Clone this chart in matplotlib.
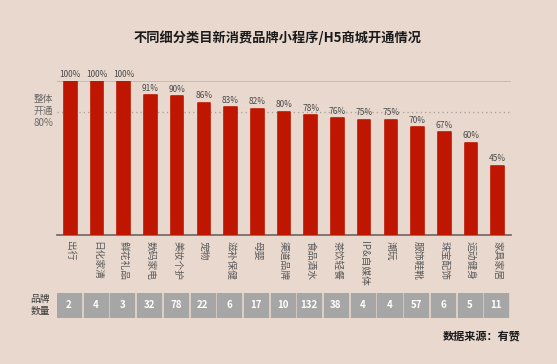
import numpy as np
import matplotlib.pyplot as plt
from matplotlib.patches import Rectangle

plt.rcParams['font.family'] = ['Noto Sans CJK SC', 'DejaVu Sans']

# Data
categories = ['出行', '日化家清', '鲜花礼品', '数码家电', '美妆个护', '宠物', '滋补保健', '母婴',
              '渠道品牌', '食品酒水', '茶饮轻餐', 'IP&自媒体', '潮玩', '服饰鞋靴', '珠宝配饰',
              '运动健身', '家具家居']
open_rate = [100, 100, 100, 91, 90, 86, 83, 82, 80, 78, 76, 75, 75, 70, 67, 60, 45]
brand_count = [2, 4, 3, 32, 78, 22, 6, 17, 10, 132, 38, 4, 4, 57, 6, 5, 11]
overall_rate = 80

bg = '#E8D8CE'
bar_color = '#BE1600'
text_gray = '#595959'

fig = plt.figure(figsize=(5.57, 3.64), dpi=100, facecolor=bg)
W, H = 557, 364

def ax_rect(x0, y0, x1, y1):
    return [x0 / W, 1 - y1 / H, (x1 - x0) / W, (y1 - y0) / H]

ax = fig.add_axes(ax_rect(57, 81, 511, 235))
ax.set_facecolor(bg)
x = np.arange(len(categories))
ax.bar(x, open_rate, width=0.47, color=bar_color, edgecolor=bar_color,
       linewidth=1.2, joinstyle='round', zorder=3)
ax.set_xlim(-0.5, len(categories) - 0.5)
ax.set_ylim(0, 100)

ax.axhline(100, color='#BDB5B0', lw=1.2, zorder=1)
ax.axhline(overall_rate, color='#A89E98', lw=0.9, ls=(0, (1, 2.5)), zorder=1)

for xi, v in zip(x, open_rate):
    ax.text(xi, v + 1.5, f'{v}%', ha='center', va='bottom', fontsize=6,
            color='#4A4A4A', zorder=4)

for s in ['top', 'right', 'left']:
    ax.spines[s].set_visible(False)
ax.spines['bottom'].set_color('#6E6460')
ax.spines['bottom'].set_linewidth(1.2)
ax.set_yticks([])
ax.set_xticks(x)
ax.set_xticklabels(categories, rotation=270, fontsize=7, color=text_gray,
                   va='top', ha='center')
ax.tick_params(axis='x', length=0, pad=4)

fig.text(43 / W, 1 - 111 / H, '整体\n开通\n80%', ha='center', va='center',
         fontsize=7, color='#6A6A6A', linespacing=1.3)

# brand count boxes
bx = fig.add_axes(ax_rect(57, 293, 511, 318))
bx.set_xlim(-0.5, len(categories) - 0.5)
bx.set_ylim(0, 1)
bx.axis('off')
for xi, n in zip(x, brand_count):
    bx.add_patch(Rectangle((xi - 0.5, 0), 0.9, 1, color='#A6A6A6'))
    bx.text(xi - 0.05, 0.5, str(n), ha='center', va='center', fontsize=7,
            color='white', fontweight='bold')

fig.text(40 / W, 1 - 305 / H, '品牌\n数量', ha='center', va='center',
         fontsize=7, color='#3A3A3A', linespacing=1.2)

fig.text(278 / W, 1 - 38 / H, '不同细分类目新消费品牌小程序/H5商城开通情况',
         ha='center', va='center', fontsize=9.5, fontweight='bold', color='#1A1A1A')
fig.text(521 / W, 1 - 337 / H, '数据来源：有赞', ha='right', va='center',
         fontsize=8, fontweight='bold', color='#1A1A1A')

fig.savefig('out.png', dpi=100, facecolor=bg)
